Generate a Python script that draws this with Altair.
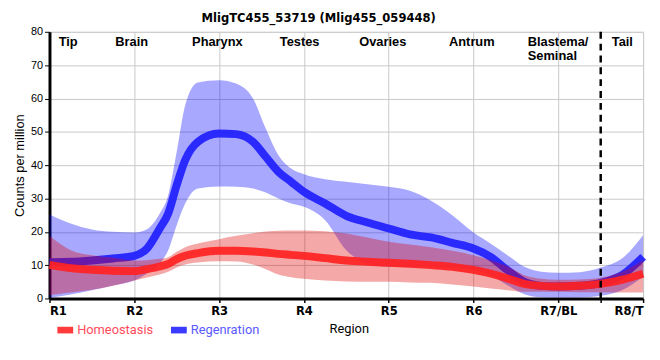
import altair as alt
import pandas as pd

# ---- data ----
x_pos = [1, 1.25, 1.5, 1.75, 2, 2.15, 2.3, 2.4, 2.5, 2.6, 2.75, 3, 3.2, 3.4, 3.55, 3.7, 3.85,
         4, 4.25, 4.5, 4.75, 5, 5.25, 5.5, 5.75, 6, 6.2, 6.4, 6.6, 6.8, 7, 7.25, 7.5, 7.75, 8]

reg_mean = [10.9, 11, 11.4, 12, 12.8, 15, 21, 25.5, 34, 41.5, 47, 49.5, 49.3, 47, 42.5, 38, 35,
            32, 28.5, 24.8, 22.8, 21, 19.2, 18.3, 16.7, 15, 12.5, 8.5, 5, 3.8, 3.6, 3.8, 4.7, 7, 12.5]
reg_hi = [25.2, 22.5, 20.7, 20, 19.8, 20.8, 25.5, 31, 44, 58, 64.8, 65.5, 64.5, 60, 51, 43, 39,
          37.3, 35.8, 35, 34.3, 33.5, 32.3, 29.3, 25, 19.8, 16.5, 13, 9.5, 8, 7.7, 7.9, 9.3, 12, 19]
reg_lo = [0.2, 1.2, 2.5, 3.9, 5.4, 7.5, 10.5, 14.5, 22, 28.5, 33, 33.6, 33.5, 33, 31.8, 30, 28.5,
          27.5, 23.5, 14.5, 10.5, 9.5, 9.5, 9.4, 9, 8.5, 7, 4, 1.3, 0.4, 0.3, 0.3, 0.8, 2.5, 6.5]

hom_mean = [10.1, 9.1, 8.6, 8.3, 8.2, 8.8, 9.6, 10.4, 11.8, 12.8, 13.6, 14.3, 14.3, 14.1, 13.8, 13.4, 13.1,
            12.8, 12.1, 11.4, 11, 10.7, 10.4, 10, 9.5, 8.6, 7.5, 6, 4.4, 3.8, 3.6, 3.8, 4.4, 5.6, 7.4]
hom_hi = [18.8, 14.5, 13, 12.2, 11.4, 11.5, 11.9, 12.4, 14, 15.4, 16.5, 17.8, 18.8, 19.6, 20.1, 20.3, 20.4,
          20.4, 20.2, 19.5, 18.3, 17, 16.2, 15.4, 14.3, 13, 11.5, 9.7, 7, 5.9, 5.6, 5.7, 6.2, 8, 11.5]
hom_lo = [1, 1.8, 2.6, 3.8, 5.4, 6.3, 7.2, 8, 9.3, 10.2, 10.8, 11.2, 11.1, 10.2, 8.8, 7.2, 6.4,
          5.9, 5.4, 5.1, 5, 5, 4.8, 4.7, 4.2, 3.6, 3, 2.5, 2, 2, 2, 1.9, 1.9, 1.8, 1.8]

series_names = ["Homeostasis", "Regenration"]
tick_labels = ["R1", "R2", "R3", "R4", "R5", "R6", "R7/BL", "R8/T"]
tick_values = [1, 2, 3, 4, 5, 6, 7, 8]
divider_x = [7.5]

region_names = ["Tip", "Brain", "Pharynx", "Testes", "Ovaries", "Antrum", "Tail"]
region_x = [1.22, 1.97, 2.98, 3.95, 4.93, 5.98, 7.755]
blastema_text = ["Blastema/\nSeminal"]
blastema_x = [6.64]

# ---- tables ----
reg = pd.DataFrame({"x": x_pos, "mean": reg_mean, "lo": reg_lo, "hi": reg_hi, "series": series_names[1]})
hom = pd.DataFrame({"x": x_pos, "mean": hom_mean, "lo": hom_lo, "hi": hom_hi, "series": series_names[0]})
regions = pd.DataFrame({"name": region_names, "x": region_x, "y": 76.8})
blast = pd.DataFrame({"name": blastema_text, "x": blastema_x, "y": 76.8})
divider = pd.DataFrame({"x": divider_x})

RED = "#ff2222"
BLUE = "#2020ff"
NARROW = "Liberation Sans Narrow, DejaVu Sans Condensed, Roboto"

label_expr = "datum.value == 7.5 ? '' : " + " : ".join(
    f"datum.value == {v} ? '{t}'" for v, t in zip(tick_values, tick_labels)) + " : ''"

xscale = alt.Scale(domain=[1, 8], nice=False, zero=False)
yscale = alt.Scale(domain=[0, 80], nice=False)

x_axis = alt.Axis(
    values=tick_values + divider_x, labelExpr=label_expr, title="Region",
    labelFont=NARROW, labelFontWeight="bold", labelFontSize=13, labelColor="black",
    labelPadding=2, tickSize=4, tickColor="black", tickWidth=1.5,
    domainColor="black", domainWidth=3, gridColor="#c8c8c8", gridWidth=1,
    gridOpacity=alt.condition("datum.value == 7.5", alt.value(0), alt.value(1)),
    titleFont="Roboto", titleFontWeight="normal", titleFontSize=13, titleColor="black",
    titleY=34, titleX=303, titleBaseline="alphabetic",
)
y_axis = alt.Axis(
    values=list(range(0, 81, 10)), title="Counts per million",
    labelFont="Liberation Sans", labelFontSize=11, labelColor="black", labelPadding=2,
    tickSize=5, tickColor="black", domainColor="black", domainWidth=3,
    gridColor="#c8c8c8", gridWidth=1,
    titleFont="Liberation Sans", titleFontWeight="normal", titleFontSize=13, titleColor="black",
    titlePadding=4,
)

def X():
    return alt.X("x:Q", scale=xscale, axis=x_axis)

def Y(field):
    return alt.Y(field, scale=yscale, axis=y_axis)

def band(df, color):
    return alt.Chart(df).mark_area(interpolate="monotone", color=color, opacity=0.34).encode(
        x=X(), y=Y("lo:Q"), y2="hi:Q",
    )

legend = alt.Legend(
    orient="none", legendX=8, legendY=294, direction="horizontal", title=None,
    symbolType="M-1,-0.42L1,-0.42L1,0.42L-1,0.42Z", symbolSize=256, symbolStrokeWidth=0,
    symbolFillColor={"expr": "datum.value == 'Homeostasis' ? '#ff2a2a' : '#2a2aff'"},
    labelColor={"expr": "datum.value == 'Homeostasis' ? '#ff4b5c' : '#5a5aff'"},
    labelFont="Roboto", labelFontSize=13, columnPadding=17, labelOffset=4,
)

def line(df):
    return alt.Chart(df).mark_line(interpolate="monotone", strokeWidth=8, strokeCap="butt", opacity=0.92).encode(
        x=X(), y=Y("mean:Q"),
        color=alt.Color("series:N", scale=alt.Scale(domain=series_names, range=[RED, BLUE]), legend=legend),
    )

div_rule = alt.Chart(divider).mark_rule(color="black", strokeWidth=2.5, strokeDash=[7, 5]).encode(
    x=X(), y=alt.value(0), y2=alt.value(270),
)

region_text = alt.Chart(regions).mark_text(
    font="Liberation Sans", fontWeight="bold", fontSize=13, align="center", baseline="middle", color="black"
).encode(x=X(), y=Y("y:Q"), text="name:N")

blast_text = alt.Chart(blast).mark_text(
    font="Liberation Sans", fontWeight="bold", fontSize=13, align="left", baseline="middle",
    color="black", lineBreak="\n", lineHeight=14
).encode(x=X(), y=Y("y:Q"), text="name:N")

chart = alt.layer(
    band(reg, "#0000ff"), line(reg), band(hom, "#e00000"), line(hom),
    div_rule, region_text, blast_text,
).properties(
    width=601, height=270,
    title=alt.Title("MligTC455_53719 (Mlig455_059448)", font=NARROW, fontWeight="bold",
                    fontSize=13, color="black", anchor="middle", offset=1, dx=-28),
    autosize=alt.AutoSizeParams(type="none"),
    padding={"left": 42, "top": 22, "right": 9, "bottom": 45},
).configure_view(stroke="black", strokeWidth=1.2).configure(background="white")

chart.save("out.html", embed_options={"renderer": "svg", "actions": False})
